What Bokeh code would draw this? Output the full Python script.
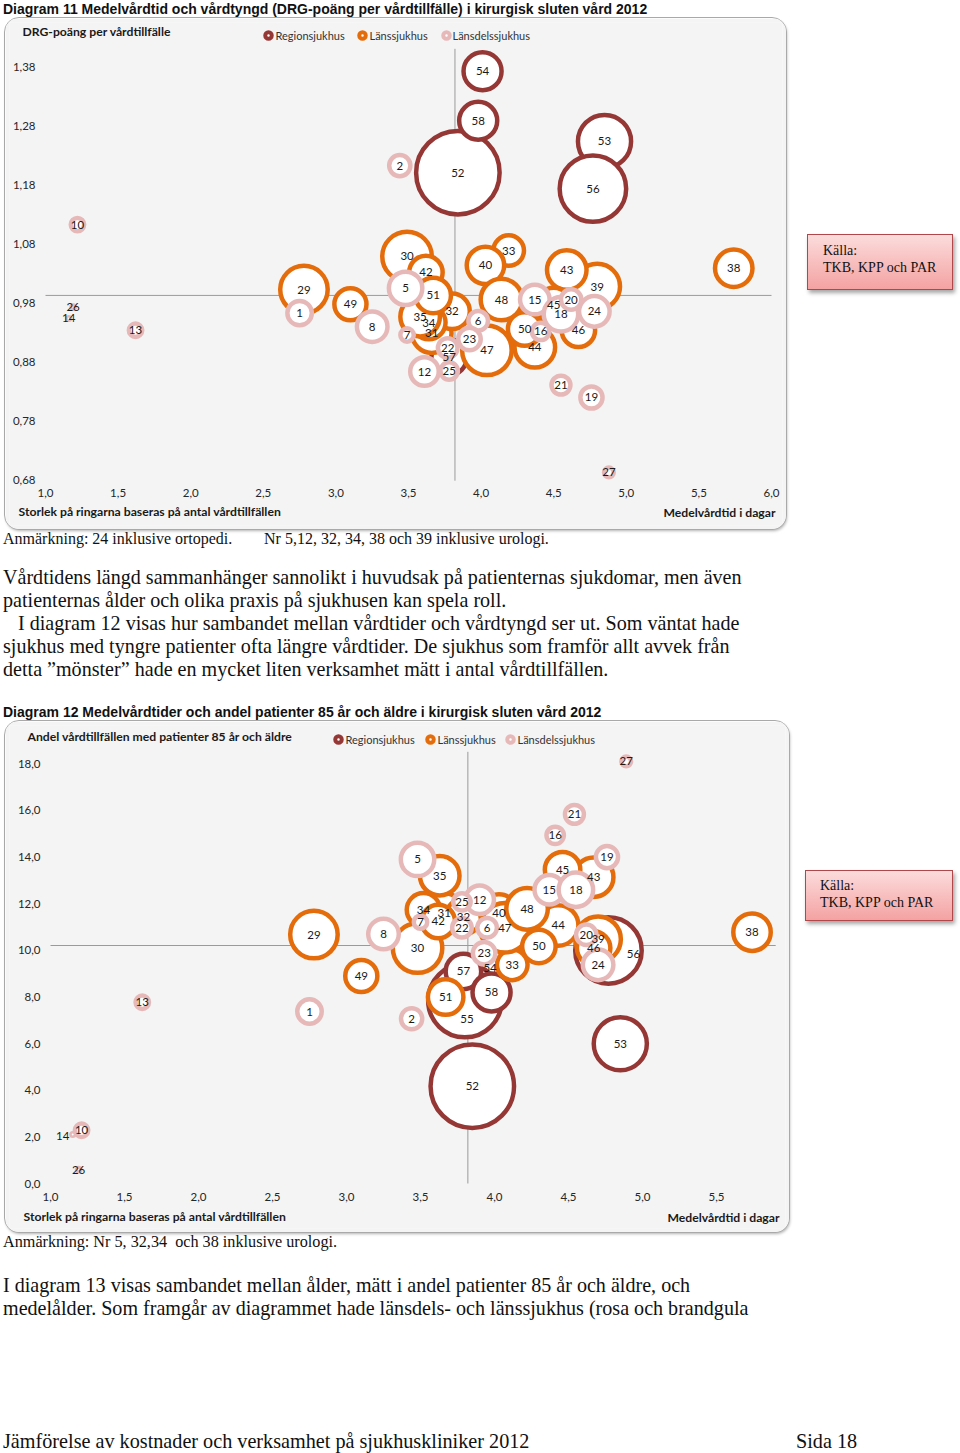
import math
from bokeh.plotting import figure
from bokeh.models import Div, Label, FixedTicker, CustomJSTickFormatter, Range1d, ColumnDataSource, Spacer
from bokeh.layouts import column, row
from bokeh.core.properties import value
from bokeh.embed import file_html
from bokeh.resources import INLINE

# ------------------------------------------------------------------ data
sjukhus = [1, 2, 5, 6, 7, 8, 10, 12, 13, 14, 15, 16, 18, 19, 20, 21, 22, 23, 24, 25, 26, 27,
           29, 30, 31, 32, 33, 34, 35, 38, 39, 40, 42, 43, 44, 45, 46, 47, 48, 49, 50, 51,
           52, 53, 54, 55, 56, 57, 58]
typ = (["Länsdelssjukhus"] * 22) + (["Länssjukhus"] * 20) + (["Regionsjukhus"] * 7)
vardtillfallen = [840, 660, 1440, 580, 320, 1230, 320, 1090, 320, 50, 1160, 480, 1520, 710, 620, 550,
                  580, 730, 1230, 480, 60, 200,
                  2700, 2920, 1940, 1600, 1230, 1440, 1940, 1760, 2500, 1760, 1440, 1940, 2030, 1600,
                  1440, 2920, 2120, 1340, 1440, 1600,
                  7740, 3320, 1810, 6080, 5040, 1600, 1810]

# Diagram 11: medelvårdtid (dagar) och DRG-poäng per vårdtillfälle
vardtid_11 = [2.75, 3.44, 3.48, 3.98, 3.49, 3.25, 1.22, 3.61, 1.62, 1.16, 4.37, 4.41, 4.55, 4.76,
              4.62, 4.55, 3.77, 3.92, 4.78, 3.78, 1.19, 4.88,
              2.78, 3.49, 3.66, 3.80, 4.19, 3.64, 3.58, 5.74, 4.80, 4.03, 3.62, 4.59, 4.37, 4.50,
              4.67, 4.04, 4.14, 3.10, 4.30, 3.67,
              3.84, 4.85, 4.01, None, 4.77, 3.78, 3.98]
drg_11 = [0.962, 1.212, 1.004, 0.949, 0.925, 0.939, 1.112, 0.863, 0.933, 0.953, 0.985, 0.931, 0.960,
          0.819, 0.985, 0.840, 0.903, 0.918, 0.965, 0.864, 0.972, 0.692,
          1.002, 1.058, 0.928, 0.965, 1.068, 0.946, 0.956, 1.038, 1.007, 1.043, 1.031, 1.035, 0.904,
          0.975, 0.933, 0.899, 0.985, 0.977, 0.935, 0.992,
          1.200, 1.253, 1.372, None, 1.173, 0.887, 1.288]

# Diagram 12: medelvårdtid (dagar) och andel vårdtillfällen med patienter 85 år och äldre (%)
vardtid_12 = [2.75, 3.44, 3.48, 3.95, 3.50, 3.25, 1.21, 3.90, 1.62, 1.15, 4.37, 4.41, 4.55, 4.76,
              4.62, 4.54, 3.78, 3.93, 4.70, 3.78, 1.19, 4.89,
              2.78, 3.48, 3.66, 3.79, 4.12, 3.52, 3.63, 5.74, 4.70, 4.03, 3.62, 4.67, 4.43, 4.46,
              4.67, 4.07, 4.22, 3.10, 4.30, 3.67,
              3.85, 4.85, 3.97, 3.80, 4.77, 3.79, 3.98]
andel85_12 = [7.37, 7.06, 13.89, 10.96, 11.20, 10.69, 2.28, 12.16, 7.77, 2.10, 12.59, 14.92, 12.59,
              13.99, 10.66, 15.82, 10.96, 9.87, 9.37, 12.07, 0.59, 18.09,
              10.67, 10.09, 11.59, 11.44, 9.37, 11.73, 13.19, 10.77, 10.47, 11.59, 11.23, 13.13,
              11.06, 13.45, 10.09, 10.96, 11.77, 8.89, 10.16, 7.99,
              4.17, 5.99, 9.25, 7.84, 9.99, 9.09, 8.19]

# reference lines (averages) and axis extents
medel_vardtid = 3.82
medel_drg = 0.992
medel_andel85 = 10.2
x_ticks_11 = [1.0, 1.5, 2.0, 2.5, 3.0, 3.5, 4.0, 4.5, 5.0, 5.5, 6.0]
y_ticks_11 = [0.68, 0.78, 0.88, 0.98, 1.08, 1.18, 1.28, 1.38]
x_ticks_12 = [1.0, 1.5, 2.0, 2.5, 3.0, 3.5, 4.0, 4.5, 5.0, 5.5]
y_ticks_12 = [0.0, 2.0, 4.0, 6.0, 8.0, 10.0, 12.0, 14.0, 16.0, 18.0]
kategorier = ["Regionsjukhus", "Länssjukhus", "Länsdelssjukhus"]

# ------------------------------------------------------------------ style
BG = "#F4F4F4"
COLORS = {"Regionsjukhus": "#953735", "Länssjukhus": "#E46C0A", "Länsdelssjukhus": "#E6B9B8"}
LW = 4.5
INK = "#1a1a1a"
FONT = "Lato"
BOLD_SIZE = "12.2px"
BOX_STYLE = {"border-radius": "14px", "overflow": "hidden", "outline": "1px solid #a9a9a9",
             "box-shadow": "1px 2px 3px rgba(0,0,0,0.30)"}
EDGE = 4  # frame inset inside the chart box
# moved data labels (screen px), as placed in the original chart
LABEL_SHIFT_12 = {14: (-10, 1), 55: (2, 18), 56: (25, 4)}


def make_chart(w, h, conv, xs, ys, xticks, yticks, ydig, ylab_right, xlab_top, lines, ytitle,
               legend_px, ytitle_px, bottom_px, right_px, shifts):
    xr = (conv(EDGE, 0)[0], conv(w - EDGE, 0)[0])
    yr = (conv(0, h - EDGE)[1], conv(0, EDGE)[1])
    p = figure(width=w, height=h, x_range=Range1d(*xr), y_range=Range1d(*yr),
               output_backend="svg", toolbar_location=None, title=None,
               min_border_left=EDGE, min_border_right=EDGE, min_border_top=EDGE,
               min_border_bottom=EDGE, background_fill_color=BG, border_fill_color=BG,
               outline_line_color=None, styles=BOX_STYLE)
    p.xgrid.visible = False
    p.ygrid.visible = False
    for ax, ticks, dig in ((p.xaxis, xticks, 1), (p.yaxis, yticks, ydig)):
        ax.ticker = FixedTicker(ticks=ticks)
        ax.formatter = CustomJSTickFormatter(code="return tick.toFixed(%d).replace('.', ',')" % dig)
        ax.axis_line_color = None
        ax.major_tick_line_color = None
        ax.minor_tick_line_color = None
        ax.major_tick_out = 0
        ax.major_tick_in = 0
        ax.major_label_text_font = FONT
        ax.major_label_text_font_size = "11.5px"
        ax.major_label_text_color = "#262626"
    # tick labels sit inside the chart box, as in the original
    p.yaxis.major_label_standoff = EDGE - ylab_right
    p.xaxis.major_label_standoff = xlab_top - (h - EDGE)

    # average lines (axis crossings)
    (vx, vy0, vy1), (hy, hx0, hx1) = lines
    p.segment(x0=[vx, hx0], y0=[vy0, hy], x1=[vx, hx1], y1=[vy1, hy], line_color="#9a9a9a", line_width=1)

    # bubbles: series order Region, Läns, Länsdel
    for kat in kategorier:
        idx = [i for i in range(len(sjukhus)) if typ[i] == kat and xs[i] is not None]
        src = ColumnDataSource(dict(
            x=[xs[i] for i in idx], y=[ys[i] for i in idx],
            d=[max(math.sqrt(vardtillfallen[i]) - LW, 1.0) for i in idx]))
        p.scatter(x="x", y="y", size="d", marker="circle", source=src, fill_color="white",
                  line_color=COLORS[kat], line_width=LW)
    idx = [i for i in range(len(sjukhus)) if xs[i] is not None]
    lsrc = ColumnDataSource(dict(x=[xs[i] for i in idx], y=[ys[i] for i in idx],
                                 t=[str(sjukhus[i]) for i in idx],
                                 dx=[shifts.get(sjukhus[i], (0, 0))[0] for i in idx],
                                 dy=[shifts.get(sjukhus[i], (0, 0))[1] for i in idx]))
    p.text(x="x", y="y", text="t", source=lsrc, x_offset="dx", y_offset="dy",
           text_font=value(FONT), text_font_size="11.5px",
           text_align="center", text_baseline="middle", text_color=INK)

    # legend
    for (mx, tx, ly), kat in zip(legend_px, kategorier):
        lx, lyy = conv(mx, ly)
        p.scatter(x=[lx], y=[lyy], size=6.5, marker="circle", fill_color="white",
                  line_color=COLORS[kat], line_width=4)
        a, b = conv(tx, ly)
        p.add_layout(Label(x=a, y=b, text=kat, text_font=FONT, text_font_size="11px",
                           text_color="#333333", text_align="left", text_baseline="middle"))
    a, b = conv(*ytitle_px)
    p.add_layout(Label(x=a, y=b, text=ytitle, text_font=FONT, text_font_size=BOLD_SIZE,
                       text_font_style="bold", text_color=INK, text_align="left",
                       text_baseline="middle"))
    a, b = conv(*bottom_px)
    p.add_layout(Label(x=a, y=b, text="Storlek på ringarna baseras på antal vårdtillfällen",
                       text_font=FONT, text_font_size=BOLD_SIZE, text_font_style="bold",
                       text_color=INK, text_align="left", text_baseline="middle"))
    a, b = conv(*right_px)
    p.add_layout(Label(x=a, y=b, text="Medelvårdtid i dagar", text_font=FONT, text_font_size=BOLD_SIZE,
                       text_font_style="bold", text_color=INK, text_align="right",
                       text_baseline="middle"))
    return p


def conv11(X, Y):
    return (1 + (X - 40) / 145.2, 0.68 + (461 - Y) / 590)


def conv12(X, Y):
    return (1 + (X - 45) / 148, (462 - Y) * 18 / 420)


p11 = make_chart(781, 511, conv11, vardtid_11, drg_11, x_ticks_11, y_ticks_11, 2, 30, 470,
                 ((medel_vardtid, 0.678, 1.41), (medel_drg, 1.0, 6.0)),
                 "DRG-poäng per vårdtillfälle",
                 [(263, 270, 17), (357, 364, 17), (441, 447, 17)], (17, 13), (13, 493), (770, 494), {})
p12 = make_chart(784, 511, conv12, vardtid_12, andel85_12, x_ticks_12, y_ticks_12, 1, 35, 471,
                 ((medel_vardtid, 0.0, 18.5), (medel_andel85, 1.0, 5.9)),
                 "Andel vårdtillfällen med patienter 85 år och äldre",
                 [(333, 340, 18), (425, 432, 18), (505, 512, 18)], (22, 15), (18, 495), (774, 496),
                 LABEL_SHIFT_12)

# ------------------------------------------------------------------ page text
SERIF = "font-family:'Liberation Serif','Times New Roman',serif;color:#111;"
SANS = "font-family:'Liberation Sans',Arial,sans-serif;font-weight:bold;color:#111;"
BODY = 20.1


def block(w, h, items):
    parts = ['<div style="position:relative;width:%dpx;height:%dpx;">' % (w, h)]
    for left, top, lh, size, fam, txt in items:
        parts.append('<div style="position:absolute;left:%spx;top:%spx;line-height:%spx;'
                     'font-size:%spx;white-space:nowrap;%s">%s</div>' % (left, top, lh, size, fam, txt))
    parts.append('</div>')
    return Div(text="".join(parts), width=w, height=h, margin=0)


def kalla(w, h, pad_top, pad_left):
    html = ('<div style="box-sizing:border-box;width:%dpx;height:%dpx;border:1.5px solid #B0474A;'
            'background:linear-gradient(#FCDCDC,#F4A2A2);box-shadow:2px 3px 4px rgba(0,0,0,0.35);'
            'padding:%dpx 0 0 %dpx;font-size:14px;line-height:17px;%s">Källa:<br>TKB, KPP och PAR</div>'
            % (w, h, pad_top, pad_left, SERIF))
    return html


title1 = block(946, 18, [(0, 1, 16, 14, SANS,
                          "Diagram 11 Medelvårdtid och vårdtyngd (DRG-poäng per vårdtillfälle) i kirurgisk sluten vård 2012")])

mid = block(946, 192, [
    (0, 0, 20, 16, SERIF, "Anmärkning: 24 inklusive ortopedi."),
    (261, 0, 20, 16, SERIF, "Nr 5,12, 32, 34, 38 och 39 inklusive urologi."),
    (0, 37, 23, BODY, SERIF, "Vårdtidens längd sammanhänger sannolikt i huvudsak på patienternas sjukdomar, men även"),
    (0, 60, 23, BODY, SERIF, "patienternas ålder och olika praxis på sjukhusen kan spela roll."),
    (15, 83, 23, BODY, SERIF, "I diagram 12 visas hur sambandet mellan vårdtider och vårdtyngd ser ut. Som väntat hade"),
    (0, 106, 23, BODY, SERIF, "sjukhus med tyngre patienter ofta längre vårdtider. De sjukhus som framför allt avvek från"),
    (0, 129, 23, BODY, SERIF, "detta ”mönster” hade en mycket liten verksamhet mätt i antal vårdtillfällen."),
    (0, 175, 16, 14, SANS,
     "Diagram 12 Medelvårdtider och andel patienter 85 år och äldre i kirurgisk sluten vård 2012"),
])

bottom = block(946, 215, [
    (0, 0, 20, 16.2, SERIF, "Anmärkning: Nr 5, 32,34 &nbsp;och 38 inklusive urologi."),
    (0, 42, 23, BODY, SERIF, "I diagram 13 visas sambandet mellan ålder, mätt i andel patienter 85 år och äldre, och"),
    (0, 65, 23, BODY, SERIF, "medelålder. Som framgår av diagrammet hade länsdels- och länssjukhus (rosa och brandgula"),
    (0, 201, 16, 20.2, SERIF, "Jämförelse av kostnader och verksamhet på sjukhuskliniker 2012"),
    (793, 201, 16, 20.2, SERIF, "Sida 18"),
])

k1 = Div(text=kalla(146, 56, 7, 15), width=146, height=56, margin=(216, 0, 0, 0))
k2 = Div(text=kalla(148, 51, 6, 14), width=148, height=51, margin=(149, 0, 0, 0))

row1 = row(Spacer(width=2, height=511), p11, Spacer(width=21, height=511), k1)
row2 = row(Spacer(width=2, height=511), p12, Spacer(width=16, height=511), k2)

page = column(title1, row1, mid, row2, bottom, margin=(0, 0, 0, 3))

open("out.html", "w").write(file_html(page, INLINE))
